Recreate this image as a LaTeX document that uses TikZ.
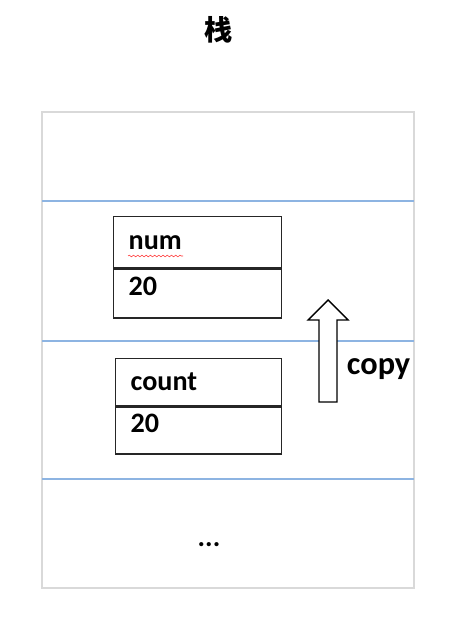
\documentclass[tikz,border=0pt]{standalone}
\usepackage{fontspec}
\setmainfont{Carlito}
\newfontfamily\cjkfont{Noto Sans CJK SC}
\usetikzlibrary{decorations.pathmorphing}
\definecolor{framegray}{RGB}{217,217,217}
\definecolor{slotblue}{RGB}{141,180,226}
\tikzset{
  cell/.style={draw=black!85, line width=1pt, anchor=north west, minimum width=4.2cm,
    text width=3.45cm, inner xsep=0.375cm, align=left, font=\fontsize{20}{24}\selectfont\bfseries},
  valcell/.style={cell, text depth=0.35cm},
  slotline/.style={draw=slotblue, line width=1.4pt},
  label/.style={font=\fontsize{20}{24}\selectfont\bfseries}
}
\begin{document}
\begin{tikzpicture}[x=0.025cm, y=-0.025cm]
  \useasboundingbox (0,0) rectangle (460,622);
  {
  % Drawing title
  \node (title) at (219,30) {\cjkfont\fontsize{20}{24}\selectfont\bfseries 栈};

  % Drawing stack frame
  \draw [draw=framegray, line width=1.4pt] (42,112) rectangle (414,588);

  % Drawing slot lines
  \coordinate (slotAw) at (42,201);  \coordinate (slotAe) at (414,201);
  \coordinate (slotBw) at (42,341);  \coordinate (slotBe) at (414,341);
  \coordinate (slotCw) at (42,479);  \coordinate (slotCe) at (414,479);
  \draw [slotline] (slotAw) -- (slotAe);
  \draw [slotline] (slotBw) -- (slotBe);
  \draw [slotline] (slotCw) -- (slotCe);

  % Drawing variable num
  \node [cell, minimum height=1.275cm] (numname) at (113,216) {num};
  \node [valcell, minimum height=1.225cm] (numval) at (numname.south west) {20};
  \draw [red!80, line width=0.4pt, decorate, decoration={snake, amplitude=0.6pt, segment length=3pt}]
    (128,256) -- (183,256);

  % Drawing variable count
  \node [cell, minimum height=1.175cm, minimum width=4.15cm, text width=3.4cm] (countname) at (115,358) {count};
  \node [valcell, minimum height=1.175cm, minimum width=4.15cm, text width=3.4cm] (countval) at (countname.south west) {20};

  % Drawing copy arrow
  \draw [line width=1pt, fill=white] (319,402) -- (337,402) -- (337,320) -- (348,320)
    -- (328,300) -- (308,320) -- (319,320) -- cycle;
  \node [label, font=\fontsize{23}{27}\selectfont\bfseries, anchor=west] (copy) at (342,369) {copy};

  % Marking rest of stack
  \node [label] (rest) at (209,545) {...};
  }
\end{tikzpicture}
\end{document}
